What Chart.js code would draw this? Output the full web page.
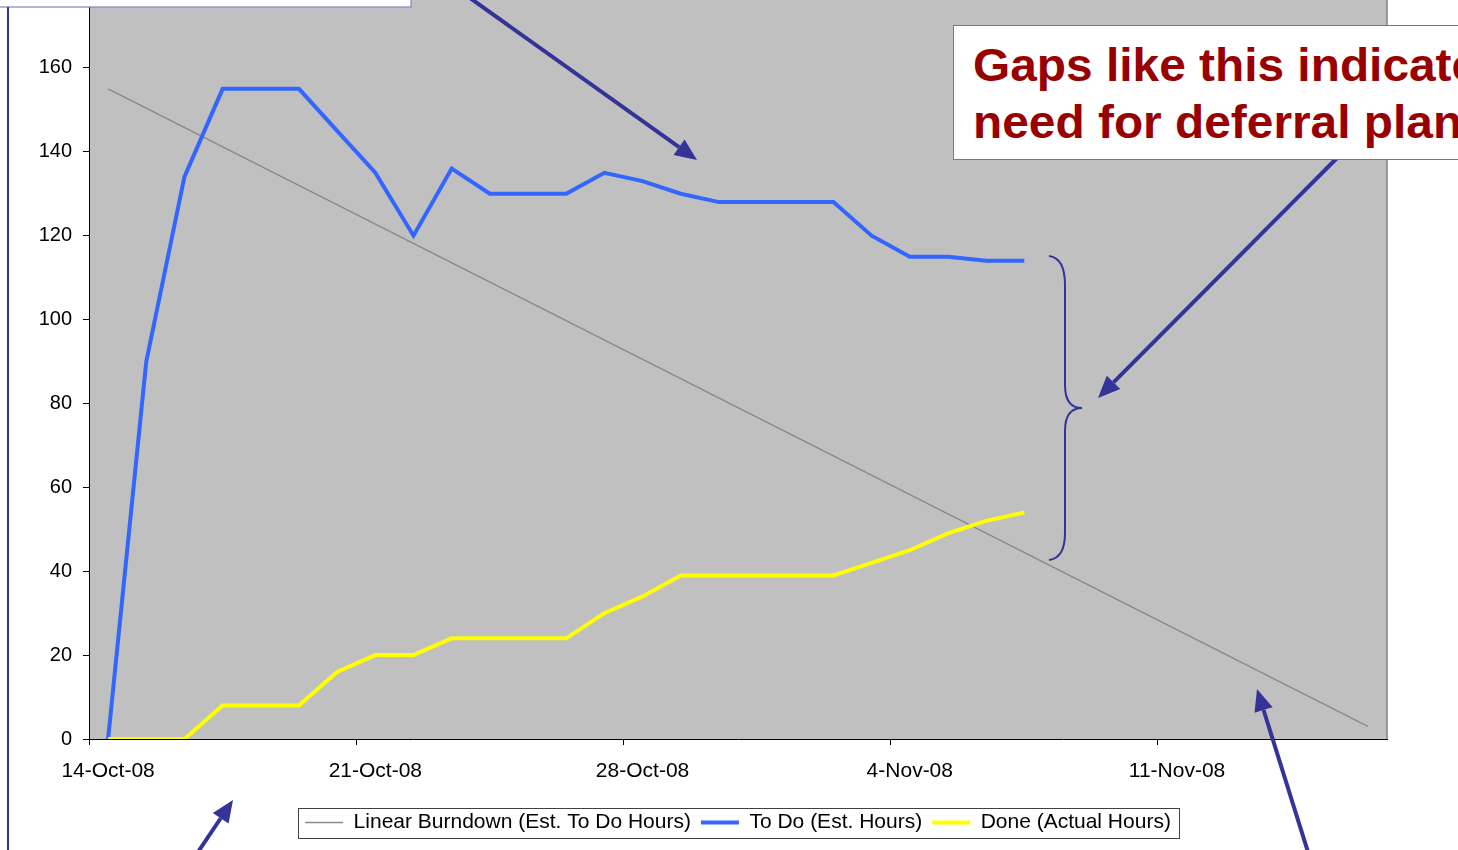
<!DOCTYPE html>
<html>
<head>
<meta charset="utf-8">
<script src="https://cdn.jsdelivr.net/npm/chart.js@4.4.1/dist/chart.umd.min.js"></script>
<style>
    html, body { margin: 0; padding: 0; background: #fff; }
    #wrap { position: relative; width: 1458px; height: 850px; overflow: hidden; background: #fff; }
    #burndownChart { position: absolute; left: 0; top: -39px; }
    #notes { position: absolute; left: 0; top: 0; }
    #gapNote {
        position: absolute; left: 953px; top: 25px; width: 620px; height: 122px;
        padding: 11px 0 0 19px; border: 1px solid #7070c0; background: #fff;
        color: #990000; font: bold 46px "Liberation Sans", Arial, sans-serif;
        line-height: 57px; white-space: nowrap;
    }
    #gapNote span { display: inline-block; transform: scaleX(1.04); transform-origin: left; }
</style>
</head>
<body>
<div id="wrap">
    <canvas id="burndownChart" width="1458" height="889" style="width:1458px;height:889px"></canvas>
    <svg id="notes" width="1458" height="850"></svg>
    <div id="gapNote"><span>Gaps like this indicate<br>need for deferral plan</span></div>
</div>
<script>
// categories (one per day)
const days = [
    "14-Oct-08", "15-Oct-08", "16-Oct-08", "17-Oct-08", "18-Oct-08", "19-Oct-08", "20-Oct-08",
    "21-Oct-08", "22-Oct-08", "23-Oct-08", "24-Oct-08", "25-Oct-08", "26-Oct-08", "27-Oct-08",
    "28-Oct-08", "29-Oct-08", "30-Oct-08", "31-Oct-08", "1-Nov-08", "2-Nov-08", "3-Nov-08",
    "4-Nov-08", "5-Nov-08", "6-Nov-08", "7-Nov-08", "8-Nov-08", "9-Nov-08", "10-Nov-08",
    "11-Nov-08", "12-Nov-08", "13-Nov-08", "14-Nov-08", "15-Nov-08", "16-Nov-08"
];
const shownDays = ["14-Oct-08", "21-Oct-08", "28-Oct-08", "4-Nov-08", "11-Nov-08"];
const yTicks = [0, 20, 40, 60, 80, 100, 120, 140, 160, 180];

// linear burndown: start and end, line drawn between them
const burndown = [155, null, null, null, null, null, null, null, null, null, null, null,
    null, null, null, null, null, null, null, null, null, null, null, null, null, null,
    null, null, null, null, null, null, null, 3];
const toDo = [0, 90, 134, 155, 155, 155, 145, 135, 120, 136, 130, 130, 130,
    135, 133, 130, 128, 128, 128, 128, 120, 115, 115, 114, 114];
const done = [0, 0, 0, 8, 8, 8, 16, 20, 20, 24, 24, 24, 24,
    30, 34, 39, 39, 39, 39, 39, 42, 45, 49, 52, 54];

Chart.defaults.font.family = '"Liberation Sans", Arial, sans-serif';
Chart.defaults.color = "#000";

const plotArea = {
    id: "plotArea",
    afterLayout(chart) {
        // centre the legend under the plot area, like the original
        const lg = chart.legend;
        lg.left = chart.chartArea.left;
        lg.right = chart.chartArea.right;
        lg.width = lg.right - lg.left;
    },
    beforeDraw(chart) {
        const { ctx, chartArea: a } = chart;
        ctx.save();
        ctx.fillStyle = "#c0c0c0";
        ctx.fillRect(a.left, a.top, a.right - a.left, a.bottom - a.top);
        ctx.strokeStyle = "#808080";
        ctx.lineWidth = 1.5;
        ctx.beginPath();
        ctx.moveTo(a.right, a.top);
        ctx.lineTo(a.right, a.bottom);
        ctx.stroke();
        ctx.restore();
    },
    afterDraw(chart) {
        const boxes = chart.legend.legendHitBoxes;
        if (!boxes || !boxes.length) return;
        const x1 = Math.min(...boxes.map(b => b.left)) - 7;
        const x2 = Math.max(...boxes.map(b => b.left + b.width)) + 8;
        const y1 = Math.min(...boxes.map(b => b.top)) - 4;
        const y2 = Math.max(...boxes.map(b => b.top + b.height)) + 5;
        const ctx = chart.ctx;
        ctx.save();
        ctx.strokeStyle = "#404040";
        ctx.lineWidth = 1;
        ctx.strokeRect(Math.round(x1) + 0.5, Math.round(y1) + 0.5, Math.round(x2 - x1), Math.round(y2 - y1));
        ctx.restore();
    }
};

new Chart(document.getElementById("burndownChart"), {
    type: "line",
    data: {
        labels: days,
        datasets: [
            {
                label: "Linear Burndown (Est. To Do Hours)",
                data: burndown,
                borderColor: "#8a8a8a",
                borderWidth: 1.5,
                spanGaps: true,
                order: 2
            },
            {
                label: "To Do (Est. Hours)",
                data: toDo,
                borderColor: "#3366ff",
                borderWidth: 4,
                order: 1
            },
            {
                label: "Done (Actual Hours)",
                data: done,
                borderColor: "#ffff00",
                borderWidth: 4,
                order: 0
            }
        ]
    },
    options: {
        responsive: false,
        animation: false,
        layout: { padding: { top: 12, right: 71, left: 0, bottom: 7 } },
        elements: {
            line: { tension: 0, fill: false, borderJoinStyle: "miter" },
            point: { radius: 0, hoverRadius: 0 }
        },
        plugins: {
            tooltip: { enabled: false },
            legend: {
                position: "bottom",
                labels: {
                    usePointStyle: true,
                    pointStyleWidth: 38,
                    padding: 10,
                    font: { size: 21 },
                    color: "#000",
                    generateLabels: chart => chart.data.datasets.map((ds, i) => ({
                        text: ds.label,
                        strokeStyle: ds.borderColor,
                        fillStyle: ds.borderColor,
                        lineWidth: ds.borderWidth,
                        pointStyle: "line",
                        hidden: false,
                        datasetIndex: i,
                        fontColor: "#000"
                    }))
                }
            }
        },
        scales: {
            x: {
                offset: true,
                border: { color: "#000", width: 1 },
                grid: {
                    offset: true,
                    drawOnChartArea: false,
                    tickLength: 6,
                    color: c => (c.index % 7 === 0 ? "#000" : "rgba(0,0,0,0)")
                },
                ticks: {
                    autoSkip: false,
                    maxRotation: 0,
                    padding: 14,
                    font: { size: 21 },
                    callback: (v, i) => (shownDays.includes(days[i]) ? days[i] : "")
                },
                afterFit: s => { s.height = 63; }
            },
            y: {
                min: yTicks[0],
                max: yTicks[yTicks.length - 1],
                border: { color: "#000", width: 1 },
                grid: { drawOnChartArea: false, tickLength: 6, color: "#000" },
                ticks: { stepSize: 20, padding: 11, font: { size: 20 } },
                afterFit: s => { s.width = 89; }
            }
        }
    },
    plugins: [plotArea]
});

// annotation arrows, brace and frame lines
const svg = document.getElementById("notes");
const NS = "http://www.w3.org/2000/svg";
const ink = "#333399";
function add(tag, attrs) {
    const el = document.createElementNS(NS, tag);
    for (const k in attrs) el.setAttribute(k, attrs[k]);
    svg.appendChild(el);
}
function arrow(x1, y1, x2, y2) {
    const len = Math.hypot(x2 - x1, y2 - y1);
    const ux = (x2 - x1) / len, uy = (y2 - y1) / len;
    const bx = x2 - ux * 22, by = y2 - uy * 22;
    add("line", { x1, y1, x2: bx, y2: by, stroke: ink, "stroke-width": 4 });
    add("polygon", {
        points: `${x2},${y2} ${bx - uy * 9.5},${by + ux * 9.5} ${bx + uy * 9.5},${by - ux * 9.5}`,
        fill: ink
    });
}
add("rect", { x: -2, y: -10, width: 413, height: 17, fill: "#fff", stroke: "#8080c8", "stroke-width": 1.2 });
add("line", { x1: 8, y1: 7, x2: 8, y2: 852, stroke: ink, "stroke-width": 2 });
arrow(470, -2, 697, 160);
arrow(1337, 158, 1098, 398);
arrow(198, 852, 233, 800);
arrow(1308, 852, 1257, 689);
add("path", {
    d: "M1049,256 Q1065,258 1065,285 L1065,385 Q1065,408 1082,408 Q1065,408 1065,431 L1065,533 Q1065,558 1049,560",
    fill: "none", stroke: ink, "stroke-width": 2
});
</script>
</body>
</html>
